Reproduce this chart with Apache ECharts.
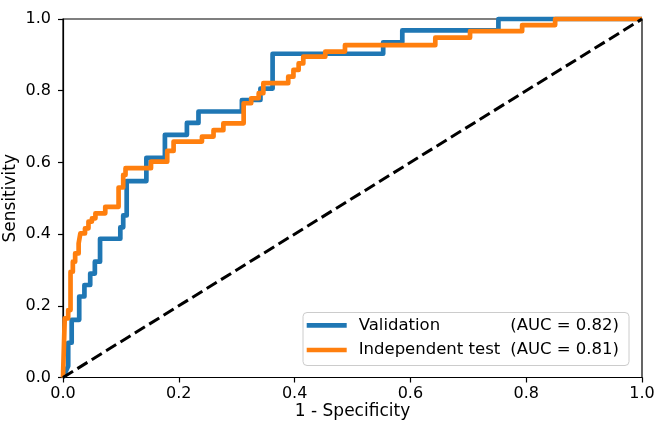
<!DOCTYPE html>
<html>
<head>
<meta charset="utf-8">
<script src="https://cdn.jsdelivr.net/npm/echarts@6/dist/echarts.min.js"></script>
<style>
html,body{margin:0;padding:0;background:#fff;}
#chart{width:655px;height:430px;}
</style>
</head>
<body>
<div id="chart"></div>
<script>
// Validation ROC curve
const valFpr = [0, 0.009, 0.009, 0.015, 0.015, 0.028, 0.028, 0.037, 0.037, 0.047, 0.047, 0.055, 0.055, 0.064, 0.064, 0.099, 0.099, 0.104, 0.104, 0.110, 0.110, 0.144, 0.144, 0.176, 0.176, 0.214, 0.214, 0.234, 0.234, 0.309, 0.309, 0.341, 0.341, 0.362, 0.362, 0.553, 0.553, 0.586, 0.586, 0.752, 0.752, 1.0];
const valTpr = [0, 0.032, 0.097, 0.097, 0.161, 0.161, 0.226, 0.226, 0.258, 0.258, 0.290, 0.290, 0.323, 0.323, 0.387, 0.387, 0.419, 0.419, 0.452, 0.452, 0.548, 0.548, 0.613, 0.613, 0.677, 0.677, 0.710, 0.710, 0.742, 0.742, 0.774, 0.774, 0.806, 0.806, 0.903, 0.903, 0.935, 0.935, 0.968, 0.968, 1.0, 1.0];
// Independent test ROC curve
const testFpr = [0, 0.003, 0.009, 0.009, 0.013, 0.013, 0.017, 0.017, 0.021, 0.021, 0.027, 0.027, 0.030, 0.030, 0.038, 0.038, 0.044, 0.044, 0.050, 0.050, 0.056, 0.056, 0.073, 0.073, 0.096, 0.096, 0.104, 0.104, 0.108, 0.108, 0.152, 0.152, 0.180, 0.180, 0.191, 0.191, 0.240, 0.240, 0.260, 0.260, 0.277, 0.277, 0.312, 0.312, 0.325, 0.325, 0.338, 0.338, 0.346, 0.346, 0.389, 0.389, 0.398, 0.398, 0.407, 0.407, 0.415, 0.415, 0.453, 0.453, 0.487, 0.487, 0.643, 0.643, 0.703, 0.703, 0.793, 0.793, 0.850, 0.850, 1.0];
const testTpr = [0, 0.165, 0.165, 0.188, 0.188, 0.295, 0.295, 0.323, 0.323, 0.346, 0.346, 0.374, 0.374, 0.402, 0.402, 0.416, 0.416, 0.435, 0.435, 0.444, 0.444, 0.458, 0.458, 0.476, 0.476, 0.530, 0.530, 0.565, 0.565, 0.584, 0.584, 0.602, 0.602, 0.632, 0.632, 0.658, 0.658, 0.672, 0.672, 0.690, 0.690, 0.709, 0.709, 0.765, 0.765, 0.779, 0.779, 0.793, 0.793, 0.821, 0.821, 0.839, 0.839, 0.858, 0.858, 0.876, 0.876, 0.895, 0.895, 0.909, 0.909, 0.927, 0.927, 0.948, 0.948, 0.966, 0.966, 0.983, 0.983, 1.0, 1.0];
// Chance line
const chanceX = [0, 1];
const chanceY = [0, 1];
const seriesNames = ['Validation', 'Independent test'];
const aucLabels = ['(AUC = 0.82)', '(AUC = 0.81)'];
const xTitle = '1 - Specificity';
const yTitle = 'Sensitivity';

const FONT = 'DejaVu Sans';
const zip = (a, b) => a.map((v, i) => [v, b[i]]);
const LEG_ICON = 'path://M0,0H40V4.7H0Z';

const chart = echarts.init(document.getElementById('chart'), null, {renderer: 'canvas'});
chart.setOption({
  animation: false,
  backgroundColor: '#fff',
  grid: {left: 63, right: 13, top: 19, bottom: 52.5, containLabel: false, outerBoundsMode: 'none',
         show: true, borderColor: '#000', borderWidth: 1.2, backgroundColor: 'transparent'},
  xAxis: {
    type: 'value', min: 0, max: 1, interval: 0.2,
    name: xTitle, nameLocation: 'middle', nameGap: 26, nameMoveOverlap: false,
    nameTextStyle: {fontFamily: FONT, fontSize: 17, color: '#000'},
    axisLine: {show: true, onZero: false, lineStyle: {color: '#000', width: 1.2}},
    axisTick: {show: true, length: 5, lineStyle: {color: '#000', width: 1.2}},
    axisLabel: {fontFamily: FONT, fontSize: 16, color: '#000', margin: 8, formatter: v => v.toFixed(1)},
    splitLine: {show: false}
  },
  yAxis: {
    type: 'value', min: 0, max: 1, interval: 0.2,
    name: yTitle, nameLocation: 'middle', nameGap: 44, nameRotate: 90, nameMoveOverlap: false,
    nameTextStyle: {fontFamily: FONT, fontSize: 17, color: '#000'},
    axisLine: {show: true, onZero: false, lineStyle: {color: '#000', width: 1.2}},
    axisTick: {show: true, length: 5, lineStyle: {color: '#000', width: 1.2}},
    axisLabel: {fontFamily: FONT, fontSize: 16, color: '#000', margin: 12, formatter: v => v.toFixed(1)},
    splitLine: {show: false}
  },
  legend: {
    orient: 'vertical', left: 303, top: 312.5,
    itemWidth: 40, itemHeight: 14, itemGap: 7.7,
    symbolKeepAspect: true,
    padding: [4.3, 10, 7, 3.7],
    borderColor: '#cccccc', borderWidth: 1, borderRadius: 4,
    backgroundColor: 'rgba(255,255,255,0.8)',
    data: [
      {name: seriesNames[0], icon: LEG_ICON},
      {name: seriesNames[1], icon: LEG_ICON}
    ],
    formatter: function (name) {
      const i = seriesNames.indexOf(name);
      return '{s| }{a|' + name + '}{b|' + aucLabels[i] + '}';
    },
    textStyle: {
      fontFamily: FONT, fontSize: 16.5, color: '#000',
      rich: {
        s: {width: 7, fontFamily: FONT, fontSize: 16.5, lineHeight: 18},
        a: {width: 151.5, fontFamily: FONT, fontSize: 16.5, color: '#000', lineHeight: 18},
        b: {fontFamily: FONT, fontSize: 16.5, color: '#000', lineHeight: 18}
      }
    }
  },
  series: [
    {
      name: seriesNames[0], type: 'line', data: zip(valFpr, valTpr),
      symbol: 'none', showSymbol: false, clip: false,
      itemStyle: {color: '#1f77b4'},
      lineStyle: {color: '#1f77b4', width: 4.7, join: 'round'}
    },
    {
      name: seriesNames[1], type: 'line', data: zip(testFpr, testTpr),
      symbol: 'none', showSymbol: false, clip: false,
      itemStyle: {color: '#ff7f0e'},
      lineStyle: {color: '#ff7f0e', width: 4.7, join: 'round'}
    },
    {
      name: 'chance', type: 'line', data: zip(chanceX, chanceY),
      symbol: 'none', showSymbol: false, clip: false,
      lineStyle: {color: '#000', width: 3, type: [11.8, 5.1]}
    }
  ]
});
</script>
</body>
</html>
